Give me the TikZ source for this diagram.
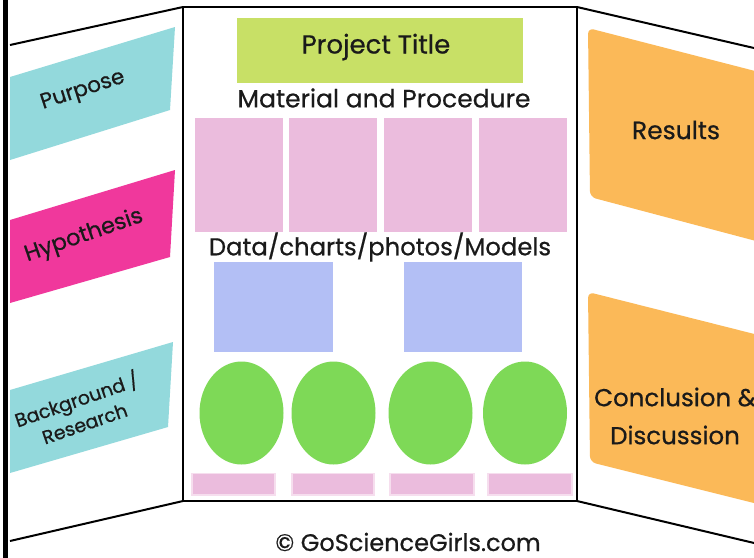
\documentclass[tikz,border=0pt]{standalone}
\usepackage{fontspec}
\setmainfont{Poppins}[FakeBold=0.6]
\definecolor{cyanc}{RGB}{147,217,220}
\definecolor{magc}{RGB}{240,56,156}
\definecolor{limec}{RGB}{200,224,102}
\definecolor{pinkc}{RGB}{235,188,221}
\definecolor{pinkl}{RGB}{246,222,238}
\definecolor{bluec}{RGB}{179,191,245}
\definecolor{greenc}{RGB}{126,217,87}
\definecolor{orangec}{RGB}{251,185,88}
\definecolor{inkc}{RGB}{26,26,26}
\begin{document}
\begin{tikzpicture}[x=1pt,y=-1pt,
  board/.style={draw=black,line width=2pt},
  lbl/.style={text=inkc,inner sep=0pt,align=center},
  pinkbox/.style={fill=pinkc},
  smallbox/.style={fill=pinkc,draw=pinkl,line width=1.5pt},
  bluebox/.style={fill=bluec},
  greenell/.style={fill=greenc}]
\useasboundingbox (0,0) rectangle (754,557);
\fill[white] (0,0) rectangle (754,557);
\clip (0,0) rectangle (754,557);
% left panel shapes
\fill[cyanc] (10,77) -- (175,27) -- (170,110) -- (10,160) -- cycle;
\fill[magc] (10,220) -- (175,170) -- (170,257) -- (10,303) -- cycle;
\fill[cyanc] (10,390) -- (173,342) -- (168,427) -- (10,473) -- cycle;
% right panel shapes
\fill[orangec,rounded corners=6pt] (588,28) -- (790,80) -- (790,250) -- (590,197) -- cycle;
\fill[orangec,rounded corners=6pt] (588,292) -- (790,343) -- (790,512) -- (590,462) -- cycle;
% board outline
\draw[black,line width=4.5pt] (5.5,-5) -- (5.5,565);
\draw[board] (10,45) -- (183,7);
\draw[board] (10,541) -- (183,501);
\draw[board] (183,7) rectangle (577,501);
\draw[board] (577,7) -- (760,49.4);
\draw[board] (577,501) -- (760,544.4);
% center content
\fill[limec] (237,18) rectangle (523,83);
\foreach \a/\b in {195/283,289/377,384/472,479/567}
  \fill[pinkbox] (\a,118) rectangle (\b,232);
\fill[bluebox] (214,262) rectangle (333,352);
\fill[bluebox] (404,262) rectangle (522,352);
\foreach \c in {241.5,333.5,430.5,525}
  \fill[greenell] (\c,413) ellipse [x radius=42, y radius=51.5];
\foreach \a/\b in {192/275,292/374,390/474,488/572}
  \draw[smallbox] (\a,473.5) rectangle (\b,495);
% texts
\node[lbl,font=\fontsize{26}{30}\selectfont] (title) at (376,47) {Project Title};
\node[lbl,font=\fontsize{25}{30}\selectfont] (mat) at (384,98) {Material and Procedure};
\node[lbl,font=\fontsize{24.3}{30}\selectfont] (data) at (380,247) {Data/charts/photos/Models};
\node[lbl,font=\fontsize{21.5}{24}\selectfont,rotate=18] (purpose) at (83,91) {Purpose};
\node[lbl,font=\fontsize{22.5}{26}\selectfont,rotate=19] (hyp) at (84,236) {Hypothesis};
\node[lbl,font=\fontsize{19}{25}\selectfont,rotate=19] (bg) at (80,410) {Background /\\Research};
\node[lbl,font=\fontsize{25}{30}\selectfont] (res) at (676,130) {Results};
\node[lbl,font=\fontsize{24.5}{38}\selectfont] (conc) at (675,416) {Conclusion \&\\Discussion};
\node[lbl,font=\fontsize{24}{26}\selectfont,anchor=base] (copy) at (408,551) {© GoScienceGirls.com};
\end{tikzpicture}
\end{document}
